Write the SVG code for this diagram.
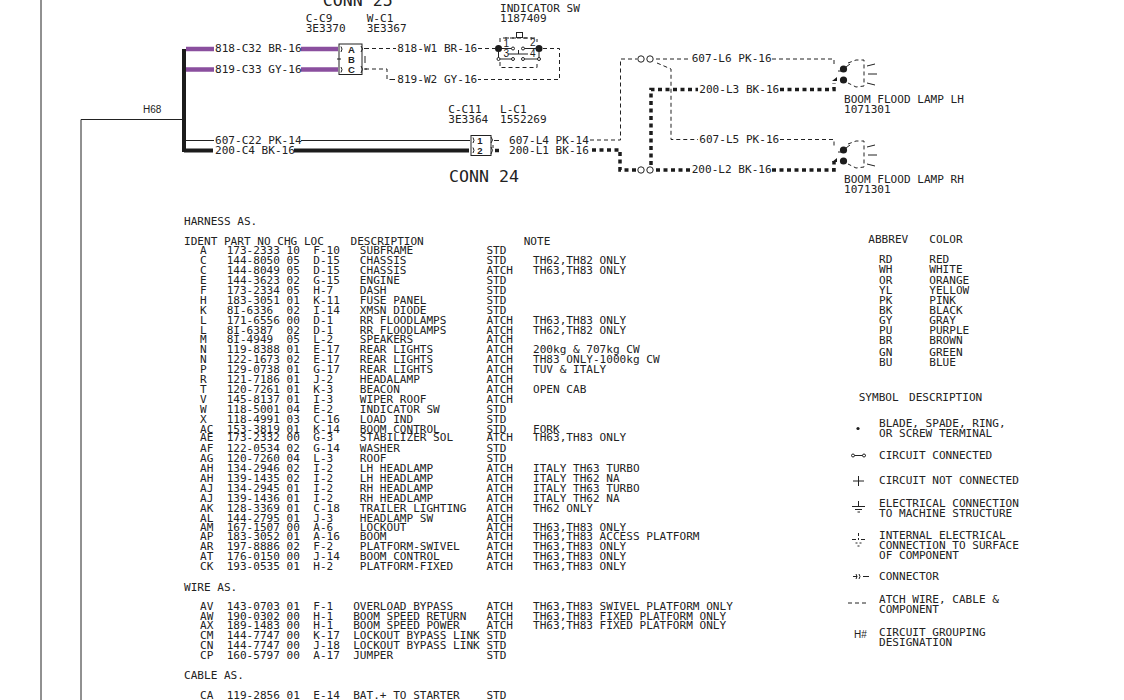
<svg xmlns="http://www.w3.org/2000/svg" width="1124" height="700" viewBox="0 0 1124 700">
<style>
text{font-family:"DejaVu Sans Mono",monospace;font-size:11.07px;fill:#222;white-space:pre}
.big{font-size:16.6px}
.b{font-family:"Liberation Sans",sans-serif;font-weight:bold;font-size:9.5px;text-anchor:middle}
.s{font-family:"Liberation Sans",sans-serif;font-size:10px}
.w{fill:none;stroke:#222;stroke-width:1}
.k{fill:none;stroke:#1c1c1c;stroke-width:4}
.p{fill:none;stroke:#8a4f9e;stroke-width:4.5}
.d{fill:none;stroke:#222;stroke-width:1;stroke-dasharray:4 3}
.t{fill:none;stroke:#1c1c1c;stroke-width:3.5;stroke-dasharray:4 3.5}
.o{fill:#fff;stroke:#222;stroke-width:1}
.f{fill:#1c1c1c}
</style>
<g id="connectors">
<path class="w" d="M41 0V700M81 700V119.500H184"/>
<path class="p" d="M186 49H214M301 49H338M186 69.500H214M301 69.500H338"/>
<path class="k" d="M184 49V152M184 150.500H213M294 150.500H469"/>
<path class="w" d="M186 140.500H214M301 140.500H470"/>
<path class="d" d="M365 48.500H396M478 48.500H495M543 48.500H559.500V79.500H478M365 69H387V79.500H394M392 79.500H395"/>
<path class="d" d="M590 140H620.500V59H637M656 59H690M772 59H834V67"/>
<path class="d" d="M657 63L671 69V139.500H698M780 139.500H834V147"/>
<path class="t" d="M592 150H620V170H637M656 170H690M772 170H834V161"/>
<path class="t" d="M651 165V89.500H698M780 89.500H834V83"/>
<path class="t" d="M495 150.500H500"/>
</g>
<g id="conn25">
<rect x="339" y="44" width="23" height="30.500" fill="#fff" stroke="#222"/>
<text class="b" x="351.500" y="53">A</text><text class="b" x="351.500" y="63">B</text><text class="b" x="351.500" y="73">C</text>
<path class="w" d="M341 46.500Q343 49 341 52M341 67Q343 69.500 341 72.500M337 59H341M361 46Q364 49 361 52M361 66Q364 69 361 73M364 48.500H367M364 69H367M365 56V63"/>
</g>
<g id="conn24">
<rect x="471" y="135.500" width="20" height="20" fill="#fff" stroke="#222"/>
<text class="b" x="480" y="144">1</text><text class="b" x="480" y="154">2</text>
<path class="w" d="M473 137.500Q475 140.500 473 143M473 147.500Q475 150.500 473 153M491 137Q494 140 491 143M491 147Q494 150 491 154M494 140.500H499M493 145V148"/>
</g>
<g id="indicator-sw">
<path class="d" d="M500 42V38H537V42M500 62V67.500H537V62M505 38H516M523 38H532"/>
<rect x="516.500" y="32.500" width="6" height="5" fill="none" stroke="#222"/>
<circle class="f" cx="498.500" cy="48.500" r="3.500"/><circle class="f" cx="539" cy="48.500" r="3.500"/>
<path class="w" d="M498.500 48.500V59M539 48.500V59M498.500 59H513M523 59H539M498.500 48.500H513M523 48.500H539M508 54H528M518.500 50V54"/>
<circle class="o" cx="498.500" cy="59" r="1.500"/><circle class="o" cx="513" cy="59" r="1.500"/><circle class="o" cx="523" cy="59" r="1.500"/><circle class="o" cx="539" cy="59" r="1.500"/><circle class="o" cx="513" cy="48.500" r="1.500"/><circle class="o" cx="523" cy="48.500" r="1.500"/>
<text class="s" x="503.500" y="47">1</text><text class="s" x="530" y="46">2</text><text class="s" x="503.500" y="57">3</text><text class="s" x="530" y="57">4</text>
</g>
<g id="splices">
<circle class="o" cx="641" cy="59" r="3.200"/><circle class="o" cx="650" cy="59" r="3.200"/>
<circle class="o" cx="641" cy="170" r="3.200"/><circle class="o" cx="650" cy="170" r="3.200"/>
</g>
<defs><g id="lamp">
<circle class="f" cx="843.500" cy="69" r="3.600"/><circle class="f" cx="843.500" cy="80" r="3.600"/>
<path class="w" d="M846 67L850 64M838 71L841 71"/>
<path class="d" d="M848 63L856 60H864V86L856 87L848 83" stroke-dasharray="3 2.500"/>
<path class="w" d="M867 66L875 64M868 74H877M867 83L875 85"/>
<path class="f" d="M832 81L837 77V81Z"/>
</g></defs>
<g id="lamp-lh"><use href="#lamp"/></g>
<g id="lamp-rh"><use href="#lamp" y="81"/></g>
<g id="h68"><text class="s" x="143" y="113">H68</text></g>
<g id="labels">
<text class="big" x="322.700" y="5.700">CONN 25</text>
<text class="big" x="449" y="181.700">CONN 24</text>
<text x="305.700" y="21.700">C-C9</text><text x="305.700" y="31.700">3E3370</text>
<text x="366.700" y="21.700">W-C1</text><text x="366.700" y="31.700">3E3367</text>
<text x="500" y="11.700">INDICATOR SW</text><text x="500" y="21.700">1187409</text>
<text x="448.300" y="113.300">C-C11</text><text x="448.300" y="123.300">3E3364</text>
<text x="500" y="113.300">L-C1</text><text x="500" y="123.300">1552269</text>
<text x="215" y="52.300">818-C32 BR-16</text><text x="215" y="73.300">819-C33 GY-16</text>
<text x="215" y="144">607-C22 PK-14</text><text x="215" y="154">200-C4 BK-16</text>
<text x="397.300" y="52.300">818-W1 BR-16</text><text x="397.300" y="83.300">819-W2 GY-16</text>
<text x="509" y="144">607-L4 PK-14</text><text x="509" y="154">200-L1 BK-16</text>
<text x="691.700" y="61.700">607-L6 PK-16</text><text x="699.300" y="92.700">200-L3 BK-16</text>
<text x="699.300" y="143.300">607-L5 PK-16</text><text x="691.700" y="173.300">200-L2 BK-16</text>
<text x="844" y="102.700">BOOM FLOOD LAMP LH</text><text x="844" y="112.700">1071301</text>
<text x="844" y="183.300">BOOM FLOOD LAMP RH</text><text x="844" y="193.300">1071301</text>
</g>
<g id="harness-table">
<text x="184" y="225">HARNESS AS.</text>
<text x="184" y="245">IDENT PART NO CHG LOC    DESCRIPTION               NOTE</text>
<text x="200" y="254">A   173-2333 10  F-10   SUBFRAME           STD</text>
<text x="200" y="264">C   144-8050 05  D-15   CHASSIS            STD    TH62,TH82 ONLY</text>
<text x="200" y="274">C   144-8049 05  D-15   CHASSIS            ATCH   TH63,TH83 ONLY</text>
<text x="200" y="284">E   144-3623 02  G-15   ENGINE             STD</text>
<text x="200" y="294">F   173-2334 05  H-7    DASH               STD</text>
<text x="200" y="304">H   183-3051 01  K-11   FUSE PANEL         STD</text>
<text x="200" y="314">K   8I-6336  02  I-14   XMSN DIODE         STD</text>
<text x="200" y="324">L   171-6556 00  D-1    RR FLOODLAMPS      ATCH   TH63,TH83 ONLY</text>
<text x="200" y="334">L   8I-6387  02  D-1    RR FLOODLAMPS      ATCH   TH62,TH82 ONLY</text>
<text x="200" y="342.700">M   8I-4949  05  L-2    SPEAKERS           ATCH</text>
<text x="200" y="352.700">N   119-8388 01  E-17   REAR LIGHTS        ATCH   200kg &amp; 707kg CW</text>
<text x="200" y="362.700">N   122-1673 02  E-17   REAR LIGHTS        ATCH   TH83 ONLY-1000kg CW</text>
<text x="200" y="372.700">P   129-0738 01  G-17   REAR LIGHTS        ATCH   TUV &amp; ITALY</text>
<text x="200" y="382.700">R   121-7186 01  J-2    HEADALAMP          ATCH</text>
<text x="200" y="392.700">T   120-7261 01  K-3    BEACON             ATCH   OPEN CAB</text>
<text x="200" y="402.700">V   145-8137 01  I-3    WIPER ROOF         ATCH</text>
<text x="200" y="412.700">W   118-5001 04  E-2    INDICATOR SW       STD</text>
<text x="200" y="422.700">X   118-4991 03  C-16   LOAD IND           STD</text>
<text x="200" y="432.700">AC  153-3819 01  K-14   BOOM CONTROL       STD    FORK</text>
<text x="200" y="441.300">AE  173-2332 00  G-3    STABILIZER SOL     ATCH   TH63,TH83 ONLY</text>
<text x="200" y="451.700">AF  122-0534 02  G-14   WASHER             STD</text>
<text x="200" y="461.700">AG  120-7260 04  L-3    ROOF               STD</text>
<text x="200" y="471.700">AH  134-2946 02  I-2    LH HEADLAMP        ATCH   ITALY TH63 TURBO</text>
<text x="200" y="481.700">AH  139-1435 02  I-2    LH HEADLAMP        ATCH   ITALY TH62 NA</text>
<text x="200" y="491.700">AJ  134-2945 01  I-2    RH HEADLAMP        ATCH   ITALY TH63 TURBO</text>
<text x="200" y="501.700">AJ  139-1436 01  I-2    RH HEADLAMP        ATCH   ITALY TH62 NA</text>
<text x="200" y="511.700">AK  128-3369 01  C-18   TRAILER LIGHTING   ATCH   TH62 ONLY</text>
<text x="200" y="521.700">AL  144-2795 01  J-3    HEADLAMP SW        ATCH</text>
<text x="200" y="530.700">AM  167-1507 00  A-6    LOCKOUT            ATCH   TH63,TH83 ONLY</text>
<text x="200" y="540">AP  183-3052 01  A-16   BOOM               ATCH   TH63,TH83 ACCESS PLATFORM</text>
<text x="200" y="550">AR  197-8886 02  F-2    PLATFORM-SWIVEL    ATCH   TH63,TH83 ONLY</text>
<text x="200" y="560">AT  176-0150 00  J-14   BOOM CONTROL       ATCH   TH63,TH83 ONLY</text>
<text x="200" y="570">CK  193-0535 01  H-2    PLATFORM-FIXED     ATCH   TH63,TH83 ONLY</text>
<text x="184" y="590.700">WIRE AS.</text>
<text x="200" y="610">AV  143-0703 01  F-1   OVERLOAD BYPASS     ATCH   TH63,TH83 SWIVEL PLATFORM ONLY</text>
<text x="200" y="620">AW  190-0302 00  H-1   BOOM SPEED RETURN   ATCH   TH63,TH83 FIXED PLATFORM ONLY</text>
<text x="200" y="629">AX  189-1483 00  H-1   BOOM SPEED POWER    ATCH   TH63,TH83 FIXED PLATFORM ONLY</text>
<text x="200" y="639">CM  144-7747 00  K-17  LOCKOUT BYPASS LINK STD</text>
<text x="200" y="649">CN  144-7747 00  J-18  LOCKOUT BYPASS LINK STD</text>
<text x="200" y="659">CP  160-5797 00  A-17  JUMPER              STD</text>
<text x="184" y="679.300">CABLE AS.</text>
<text x="200" y="699">CA  119-2856 01  E-14  BAT.+ TO STARTER    STD</text>
</g>
<g id="color-table">
<text x="868.300" y="243.300">ABBREV</text><text x="929.300" y="243.300">COLOR</text>
<text x="879" y="263.300">RD</text><text x="929.300" y="263.300">RED</text>
<text x="879" y="273.300">WH</text><text x="929.300" y="273.300">WHITE</text>
<text x="879" y="284.300">OR</text><text x="929.300" y="284.300">ORANGE</text>
<text x="879" y="294.300">YL</text><text x="929.300" y="294.300">YELLOW</text>
<text x="879" y="304.300">PK</text><text x="929.300" y="304.300">PINK</text>
<text x="879" y="314.300">BK</text><text x="929.300" y="314.300">BLACK</text>
<text x="879" y="324.300">GY</text><text x="929.300" y="324.300">GRAY</text>
<text x="879" y="334">PU</text><text x="929.300" y="334">PURPLE</text>
<text x="879" y="344.300">BR</text><text x="929.300" y="344.300">BROWN</text>
<text x="879" y="355.600">GN</text><text x="929.300" y="355.600">GREEN</text>
<text x="879" y="365.600">BU</text><text x="929.300" y="365.600">BLUE</text>
</g>
<g id="symbol-table">
<text x="858.700" y="400.700">SYMBOL</text><text x="909" y="400.700">DESCRIPTION</text>
<text x="879" y="426.700">BLADE, SPADE, RING,</text><text x="879" y="436.700">OR SCREW TERMINAL</text>
<text x="879" y="459.300">CIRCUIT CONNECTED</text>
<text x="879" y="484">CIRCUIT NOT CONNECTED</text>
<text x="879" y="506.700">ELECTRICAL CONNECTION</text><text x="879" y="516.700">TO MACHINE STRUCTURE</text>
<text x="879" y="539">INTERNAL ELECTRICAL</text><text x="879" y="549">CONNECTION TO SURFACE</text><text x="879" y="559">OF COMPONENT</text>
<text x="879" y="580">CONNECTOR</text>
<text x="879" y="602.700">ATCH WIRE, CABLE &amp;</text><text x="879" y="612.700">COMPONENT</text>
<text x="879" y="635.700">CIRCUIT GROUPING</text><text x="879" y="645.700">DESIGNATION</text>
</g>
<g id="symbols">
<circle class="f" cx="858" cy="428.500" r="1.600"/>
<path class="w" d="M852 455.500H866"/><circle class="o" cx="853" cy="455.500" r="1.500"/><circle class="o" cx="864" cy="455.500" r="1.500"/>
<path class="w" d="M853 481H864M858.500 476V486"/>
<path class="w" d="M858.500 501V506M852 506.500H865M855 509.500H862M857.500 512H860"/>
<path class="w" d="M858.500 533V536M858.500 538V540M852 539.500H856M861 539.500H865M855.500 543H857.500M859.500 543H861.500M857.500 546H859.500"/>
<path class="w" d="M853 576.500H857M863 576.500H869M856 574Q858 576.500 856 579M859 574Q861 576.500 859 579"/>
<path class="w" d="M848 603H869" stroke-dasharray="4 3"/>
<text class="s" x="854" y="638">H#</text>
</g>
</svg>
